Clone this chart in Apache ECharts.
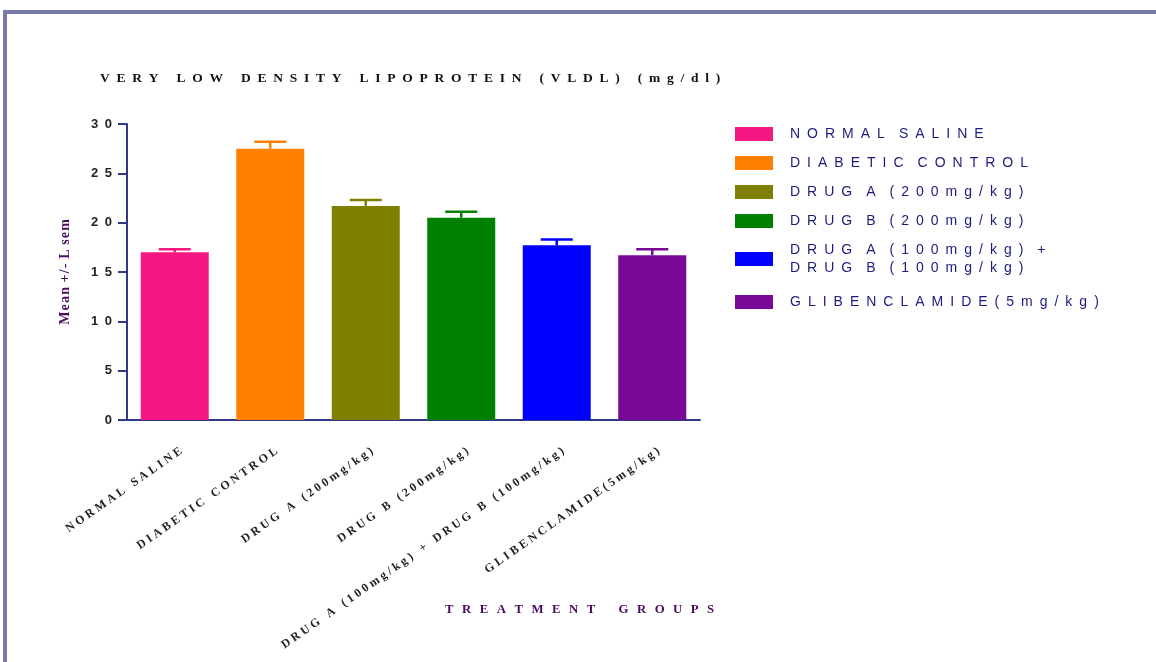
<!DOCTYPE html>
<html>
<head>
<meta charset="utf-8">
<script src="https://cdn.jsdelivr.net/npm/echarts@6/dist/echarts.min.js"></script>
<style>
  html, body { margin: 0; padding: 0; background: #ffffff; }
  #chart { width: 1156px; height: 662px; }
</style>
</head>
<body>
<div id="chart"></div>
<script>
const categories = [
  'NORMAL SALINE',
  'DIABETIC CONTROL',
  'DRUG A (200mg/kg)',
  'DRUG B (200mg/kg)',
  'DRUG A (100mg/kg) + DRUG B (100mg/kg)',
  'GLIBENCLAMIDE(5mg/kg)'
];
const means = [17.0, 27.5, 21.7, 20.5, 17.7, 16.7];
const sems = [0.3, 0.7, 0.6, 0.6, 0.6, 0.6];
const chartTitle = 'VERY LOW DENSITY LIPOPROTEIN (VLDL) (mg/dl)';
const xTitle = 'TREATMENT GROUPS';
const yTitle = 'Mean +/- L sem';

const barColors = ['#f61882', '#ff8000', '#808000', '#008000', '#0000ff', '#780896'];

// letter-spacing emulation with unicode space characters
function spaced(s, gap, wordGap) {
  return String(s).split('\n').map(function (line) {
    return Array.from(line).map(function (c) { return c === ' ' ? wordGap : c; }).join(gap);
  }).join('\n');
}

const chart = echarts.init(document.getElementById('chart'), null, { renderer: 'canvas' });

const barSeries = categories.map(function (name, i) {
  return {
    name: name,
    type: 'bar',
    barWidth: 68,
    barGap: '-100%',
    itemStyle: { color: barColors[i] },
    data: categories.map(function (c, j) { return j === i ? means[i] : '-'; }),
    z: 3
  };
});

const errSeries = {
  type: 'custom',
  z: 2,
  data: categories.map(function (c, i) { return [i, means[i], means[i] + sems[i]]; }),
  renderItem: function (params, api) {
    const x = api.value(0);
    const lo = api.coord([x, api.value(1)]);
    const hi = api.coord([x, api.value(2)]);
    const col = barColors[params.dataIndex];
    const half = 16;
    return {
      type: 'group',
      children: [
        { type: 'line', shape: { x1: lo[0], y1: lo[1], x2: hi[0], y2: hi[1] }, style: { stroke: col, lineWidth: 2.5 } },
        { type: 'line', shape: { x1: hi[0] - half, y1: hi[1], x2: hi[0] + half, y2: hi[1] }, style: { stroke: col, lineWidth: 2.5 } }
      ]
    };
  }
};

const legendText = { fontFamily: 'Liberation Sans', fontSize: 14, color: '#1c1c7e', lineHeight: 18, padding: [0, 0, 0, 12] };
function legendFmt(name) { return spaced(name.replace(' + ', ' +\n'), '\u2002', ''); }
function makeLegend(names, top) {
  return {
    orient: 'vertical',
    left: 730, top: top,
    itemWidth: 38, itemHeight: 14,
    itemGap: 11,
    icon: 'rect',
    data: names,
    formatter: legendFmt,
    textStyle: legendText,
    selectedMode: false
  };
}

const option = {
  animation: false,
  backgroundColor: '#ffffff',
  graphic: [
    { type: 'rect', shape: { x: 3, y: 10, width: 1160, height: 4 }, style: { fill: '#7a7aa8' } },
    { type: 'rect', shape: { x: 3, y: 10, width: 4, height: 660 }, style: { fill: '#7a7aa8' } }
  ],
  title: [
    {
      text: spaced(chartTitle, '\u2002', '\u2004'),
      left: 95, top: 67,
      textStyle: { fontFamily: 'Liberation Serif', fontWeight: 'bold', fontSize: 13.5, color: '#111111' }
    },
    {
      text: spaced(xTitle, '\u2002\u2006', '\u2002'),
      left: 440, top: 598,
      textStyle: { fontFamily: 'Liberation Serif', fontWeight: 'bold', fontSize: 12.75, color: '#4a0a5e' }
    }
  ],
  legend: [
    makeLegend(categories.slice(0, 5), 120),
    makeLegend(categories.slice(5), 288)
  ],
  grid: { left: 127, right: 456, top: 124, bottom: 242, outerBoundsMode: 'none' },
  xAxis: {
    type: 'category',
    data: categories,
    axisLine: { lineStyle: { color: '#33398a', width: 2 } },
    axisTick: { alignWithLabel: true, length: 6, lineStyle: { color: '#33398a', width: 2 } },
    axisLabel: {
      interval: 0,
      rotate: 35,
      margin: 21,
      verticalAlign: 'top',
      lineHeight: 22,
      fontFamily: 'Liberation Serif', fontWeight: 'bold', fontSize: 12, color: '#222222',
      formatter: function (v) { return spaced(v, '\u2005', '\u2004'); }
    }
  },
  yAxis: {
    type: 'value',
    min: 0, max: 30, interval: 5,
    name: spaced(yTitle, '\u200A', '\u2006'),
    nameLocation: 'middle',
    nameGap: 55,
    nameRotate: 90,
    nameTextStyle: { fontFamily: 'Liberation Serif', fontWeight: 'bold', fontSize: 14, color: '#4a0e5e' },
    axisLine: { show: true, lineStyle: { color: '#33398a', width: 2 } },
    axisTick: { show: true, length: 9, lineStyle: { color: '#33398a', width: 2 } },
    splitLine: { show: false },
    axisLabel: {
      margin: 15,
      fontFamily: 'Liberation Sans', fontWeight: 'bold', fontSize: 13, color: '#222222',
      formatter: function (v) { return spaced(String(v), '\u2002', ''); }
    }
  },
  series: barSeries.concat([errSeries])
};

chart.setOption(option);
</script>
</body>
</html>
